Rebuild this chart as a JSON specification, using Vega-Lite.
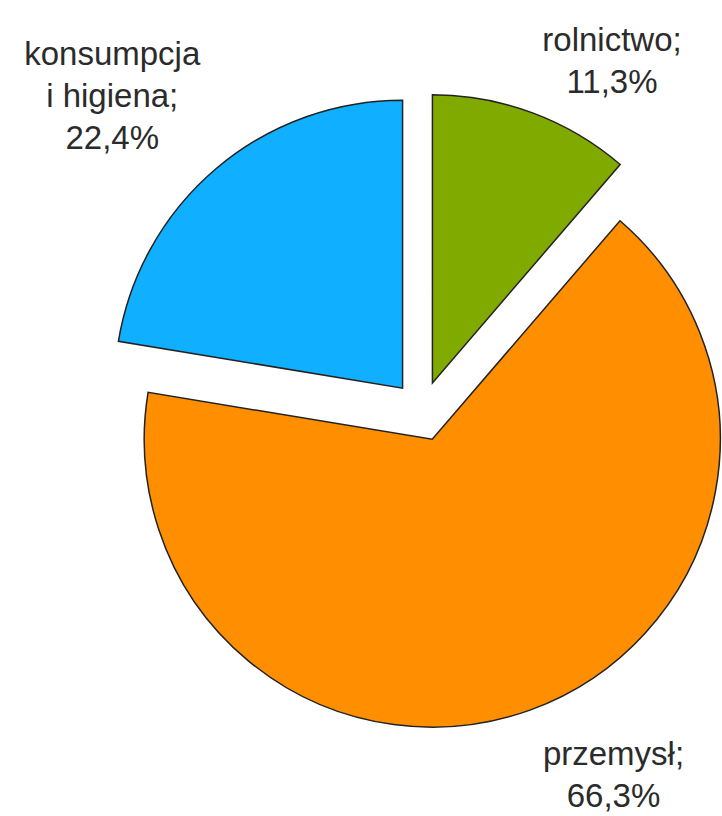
{
  "$schema": "https://vega.github.io/schema/vega-lite/v6.json",
  "width": 600,
  "height": 810,
  "autosize": {"type": "none"},
  "padding": {"left": 122, "top": 6, "right": 0, "bottom": 0},
  "background": "white",
  "config": {"view": {"stroke": null}},
  "data": {
    "values": [
      {"category": "rolnictwo", "value": 11.3, "label": "rolnictwo;\n11,3%"},
      {"category": "przemysł", "value": 66.3, "label": "przemysł;\n66,3%"},
      {"category": "konsumpcja i higiena", "value": 22.4, "label": "konsumpcja\ni higiena;\n22,4%"}
    ]
  },
  "encoding": {
    "theta": {"field": "value", "type": "quantitative", "stack": true},
    "order": {"field": "category", "sort": "descending"},
    "detail": {"field": "category"}
  },
  "layer": [
    {
      "mark": {
        "type": "arc",
        "outerRadius": 288,
        "stroke": "#222222",
        "strokeWidth": 1.5,
        "xOffset": {"expr": "30*sin(scale('theta', (datum.value_start + datum.value_end)/2))"},
        "yOffset": {"expr": "-30*cos(scale('theta', (datum.value_start + datum.value_end)/2))"}
      },
      "encoding": {
        "color": {
          "field": "category",
          "type": "nominal",
          "scale": {
            "domain": ["rolnictwo", "przemysł", "konsumpcja i higiena"],
            "range": ["#80AA00", "#FF8F00", "#10AFFF"]
          },
          "legend": null
        }
      }
    },
    {
      "mark": {
        "type": "text",
        "radius": 420,
        "font": "Liberation Sans",
        "fontSize": 33,
        "lineHeight": 42,
        "lineBreak": "\n",
        "fill": "#2b2b2b",
        "align": "center",
        "baseline": "middle",
        "dx": {"expr": "datum.category == 'rolnictwo' ? 44 : datum.category == 'przemysł' ? 48 : -38"},
        "dy": {"expr": "datum.category == 'rolnictwo' ? 24 : datum.category == 'przemysł' ? -51 : -36"}
      },
      "encoding": {
        "text": {"field": "label"}
      }
    }
  ]
}
